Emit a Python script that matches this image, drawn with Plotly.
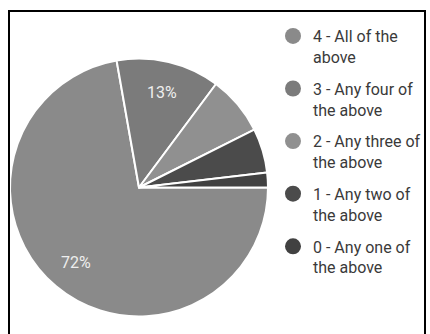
import math
import plotly.graph_objects as go

# Data
labels = ["4 - All of the above", "3 - Any four of the above", "2 - Any three of the above",
          "1 - Any two of the above", "0 - Any one of the above"]
legend_text = ["4 - All of the<br>above", "3 - Any four of<br>the above", "2 - Any three of<br>the above",
               "1 - Any two of<br>the above", "0 - Any one of<br>the above"]
counts = [39, 7, 4, 3, 1]
colors = ["#8a8a8a", "#7b7b7b", "#909090", "#4b4b4b", "#414141"]
min_label_share = 0.10  # slices smaller than this get no percentage label

W, H = 430, 334
cx, cy, r = 139, 187.5, 129
start_deg = 90  # clockwise from 12 o'clock

fig = go.Figure()
fig.add_trace(go.Pie(
    labels=labels, values=counts, sort=False, direction="clockwise", rotation=start_deg,
    marker=dict(colors=colors, line=dict(color="white", width=2)),
    textinfo="none", showlegend=False, hoverinfo="label+percent",
    domain=dict(x=[(cx - r) / W, (cx + r) / W], y=[(H - cy - r) / H, (H - cy + r) / H]),
))

# Percentage labels at 76% of the radius, at each slice's mid-angle (computed from the data)
total = sum(counts)
annotations = []
acc = 0
for v in counts:
    share = v / total
    mid = math.radians(start_deg + 360 * (acc + share / 2))
    acc += share
    if share < min_label_share:
        continue
    px = cx + 0.76 * r * math.sin(mid)
    py = cy - 0.76 * r * math.cos(mid)
    annotations.append(dict(x=px / W, y=1 - py / H, xref="paper", yref="paper",
                            xanchor="center", yanchor="middle",
                            text=f"{round(share * 100)}%", showarrow=False,
                            font=dict(family="Roboto", size=16, color="#eeeeee")))

for i, (name, col) in enumerate(zip(legend_text, colors)):
    fig.add_trace(go.Scatter(x=[None], y=[None], mode="markers", name=name, legendgroup=f"g{i}",
                             marker=dict(color=col, size=20, symbol="circle")))

fig.update_layout(
    width=W, height=H, margin=dict(l=0, r=0, t=0, b=0),
    paper_bgcolor="white", plot_bgcolor="white",
    xaxis=dict(visible=False), yaxis=dict(visible=False),
    legend=dict(x=273 / W, xanchor="left", y=1 - 19 / H, yanchor="top", valign="top",
                font=dict(family="Roboto", size=16, color="#3a3a3a"),
                bgcolor="rgba(0,0,0,0)", itemwidth=30, tracegroupgap=8),
    annotations=annotations,
    shapes=[dict(type="rect", xref="paper", yref="paper",
                 x0=9 / W, x1=425 / W, y0=-0.05, y1=1 - 11 / H,
                 line=dict(color="black", width=2), fillcolor="rgba(0,0,0,0)")],
)
fig.write_html("out.html")
